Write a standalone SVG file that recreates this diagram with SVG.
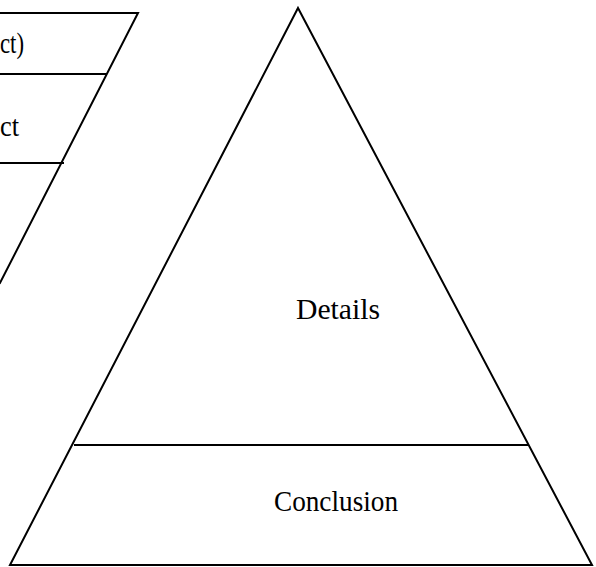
<svg xmlns="http://www.w3.org/2000/svg" width="596" height="567" viewBox="0 0 596 567">
  <style>
    .edge { fill: none; stroke: #000; stroke-width: 2; stroke-linecap: square; }
    .label { font-family: "Liberation Serif", "Times New Roman", serif; font-size: 30px; fill: #000; }
  </style>
  <rect width="596" height="567" fill="#fff"/>

  <!-- inverted funnel, partly off the left edge -->
  <g id="funnel">
    <path class="edge" d="M -5 13 L 138 13 L 0 283"/>
    <line class="edge" x1="-5" y1="74" x2="106" y2="74"/>
    <line class="edge" x1="-5" y1="163" x2="63" y2="163"/>
    <text class="label" x="0" y="53" textLength="24" lengthAdjust="spacingAndGlyphs">ct)</text>
    <text class="label" x="0" y="136" textLength="19" lengthAdjust="spacingAndGlyphs">ct</text>
  </g>

  <!-- pyramid -->
  <g id="pyramid">
    <path class="edge" d="M 298 8 L 592 565 L 10 565 Z" stroke-linejoin="miter"/>
    <line class="edge" x1="75" y1="445" x2="528" y2="445"/>
  </g>

  <g id="details">
    <text class="label" x="296" y="319" textLength="84" lengthAdjust="spacingAndGlyphs">Details</text>
  </g>
  <g id="conclusion">
    <text class="label" x="274" y="511" textLength="124" lengthAdjust="spacingAndGlyphs">Conclusion</text>
  </g>

  <g id="connectors"></g>
</svg>
